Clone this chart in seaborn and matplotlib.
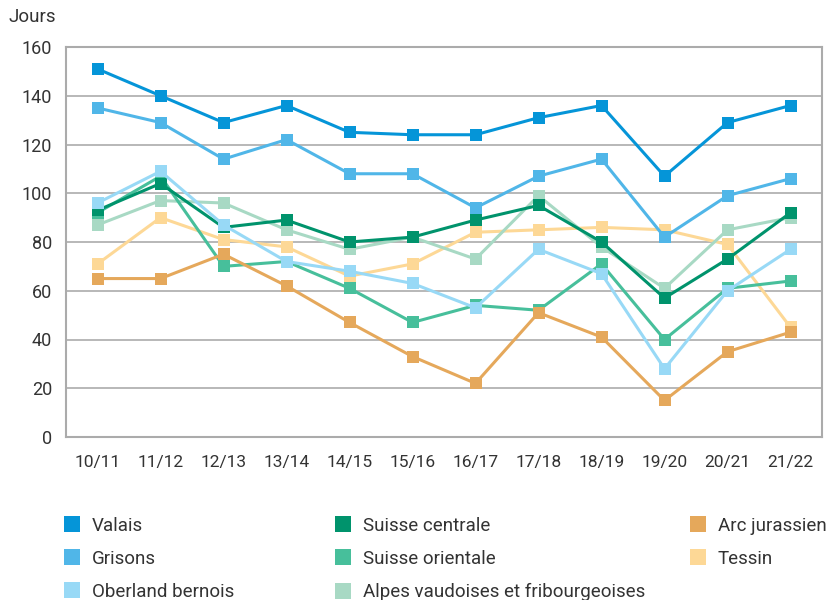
import pandas as pd
import numpy as np
import seaborn as sns
import matplotlib.pyplot as plt
from matplotlib.lines import Line2D
from matplotlib.ticker import MultipleLocator, FixedLocator

saisons = ['10/11', '11/12', '12/13', '13/14', '14/15', '15/16',
           '16/17', '17/18', '18/19', '19/20', '20/21', '21/22']

valais = [151, 140, 129, 136, 125, 124, 124, 131, 136, 107, 129, 136]
grisons = [135, 129, 114, 122, 108, 108, 94, 107, 114, 82, 99, 106]
oberland = [96, 109, 87, 72, 68, 63, 53, 77, 67, 28, 60, 77]
suisse_centrale = [93, 104, 86, 89, 80, 82, 89, 95, 80, 57, 73, 92]
suisse_orientale = [92, 107, 70, 72, 61, 47, 54, 52, 71, 40, 61, 64]
alpes_vaud = [87, 97, 96, 85, 77, 82, 73, 99, 78, 61, 85, 90]
arc_jura = [65, 65, 75, 62, 47, 33, 22, 51, 41, 15, 35, 43]
tessin = [71, 90, 81, 78, 66, 71, 84, 85, 86, 85, 79, 45]

series = {
    'Valais': valais,
    'Grisons': grisons,
    'Oberland bernois': oberland,
    'Suisse centrale': suisse_centrale,
    'Suisse orientale': suisse_orientale,
    'Alpes vaudoises et fribourgeoises': alpes_vaud,
    'Arc jurassien': arc_jura,
    'Tessin': tessin,
}
couleurs = {
    'Valais': '#0595d8',
    'Grisons': '#50b6e8',
    'Oberland bernois': '#98d9f6',
    'Suisse centrale': '#00936c',
    'Suisse orientale': '#47bf9b',
    'Alpes vaudoises et fribourgeoises': '#a8d9c4',
    'Arc jurassien': '#e5a85b',
    'Tessin': '#fdd896',
}
# drawing order (bottom to top)
ordre = ['Tessin', 'Alpes vaudoises et fribourgeoises', 'Suisse orientale',
         'Arc jurassien', 'Suisse centrale', 'Oberland bernois', 'Grisons', 'Valais']

rows = []
for nom, vals in series.items():
    for i, v in enumerate(vals):
        rows.append({'x': i, 'jours': v, 'region': nom})
df = pd.DataFrame(rows)

sns.set_style('white')
plt.rcParams['font.family'] = ['Roboto', 'DejaVu Sans']
texte = '#333333'
gris = '#ababab'

fig = plt.figure(figsize=(8.3, 6), dpi=100)
ax = fig.add_axes([66 / 830, 163 / 600, 756 / 830, 390 / 600])

sns.lineplot(data=df, x='x', y='jours', hue='region', hue_order=ordre,
             palette=couleurs, marker='s', markersize=8.5, markeredgewidth=0,
             linewidth=2.2, legend=False, ax=ax)

ax.set_xlim(-0.5, 11.5)
ax.set_ylim(0, 160)
ax.yaxis.set_major_locator(MultipleLocator(20))
ax.grid(axis='y', color=gris, linewidth=1.2)
ax.set_axisbelow(True)
for s in ax.spines.values():
    s.set_color(gris)
    s.set_linewidth(1.5)

ax.set_xticks(range(len(saisons)))
ax.set_xticklabels(saisons)
ax.xaxis.set_minor_locator(FixedLocator(np.arange(0.5, 11, 1)))
ax.tick_params(axis='x', which='major', length=0, pad=13, labelsize=12.5, labelcolor=texte)
ax.tick_params(axis='x', which='minor', direction='in', length=6, width=1.2, color=gris)
ax.tick_params(axis='y', length=0, pad=10, labelsize=13, labelcolor=texte)
ax.set_xlabel('')
ax.set_ylabel('')
fig.text(8 / 830, 1 - 17 / 600, 'Jours', fontsize=13.5, color=texte, va='center', ha='left')

colonnes = [
    (['Valais', 'Grisons', 'Oberland bernois'], 61),
    (['Suisse centrale', 'Suisse orientale', 'Alpes vaudoises et fribourgeoises'], 332),
    (['Arc jurassien', 'Tessin'], 687),
]
for noms, x0 in colonnes:
    handles = [Line2D([], [], linestyle='none', marker='s', markersize=12,
                      markeredgewidth=0, color=couleurs[n]) for n in noms]
    leg = fig.legend(handles, noms, loc='upper left',
                     bbox_to_anchor=(x0 / 830, 1 - 517 / 600), frameon=False,
                     fontsize=13.5, handlelength=1.2, handletextpad=0.45,
                     labelspacing=0.8, borderpad=0, borderaxespad=0)
    for t in leg.get_texts():
        t.set_color(texte)

fig.savefig('out.png', dpi=100)
